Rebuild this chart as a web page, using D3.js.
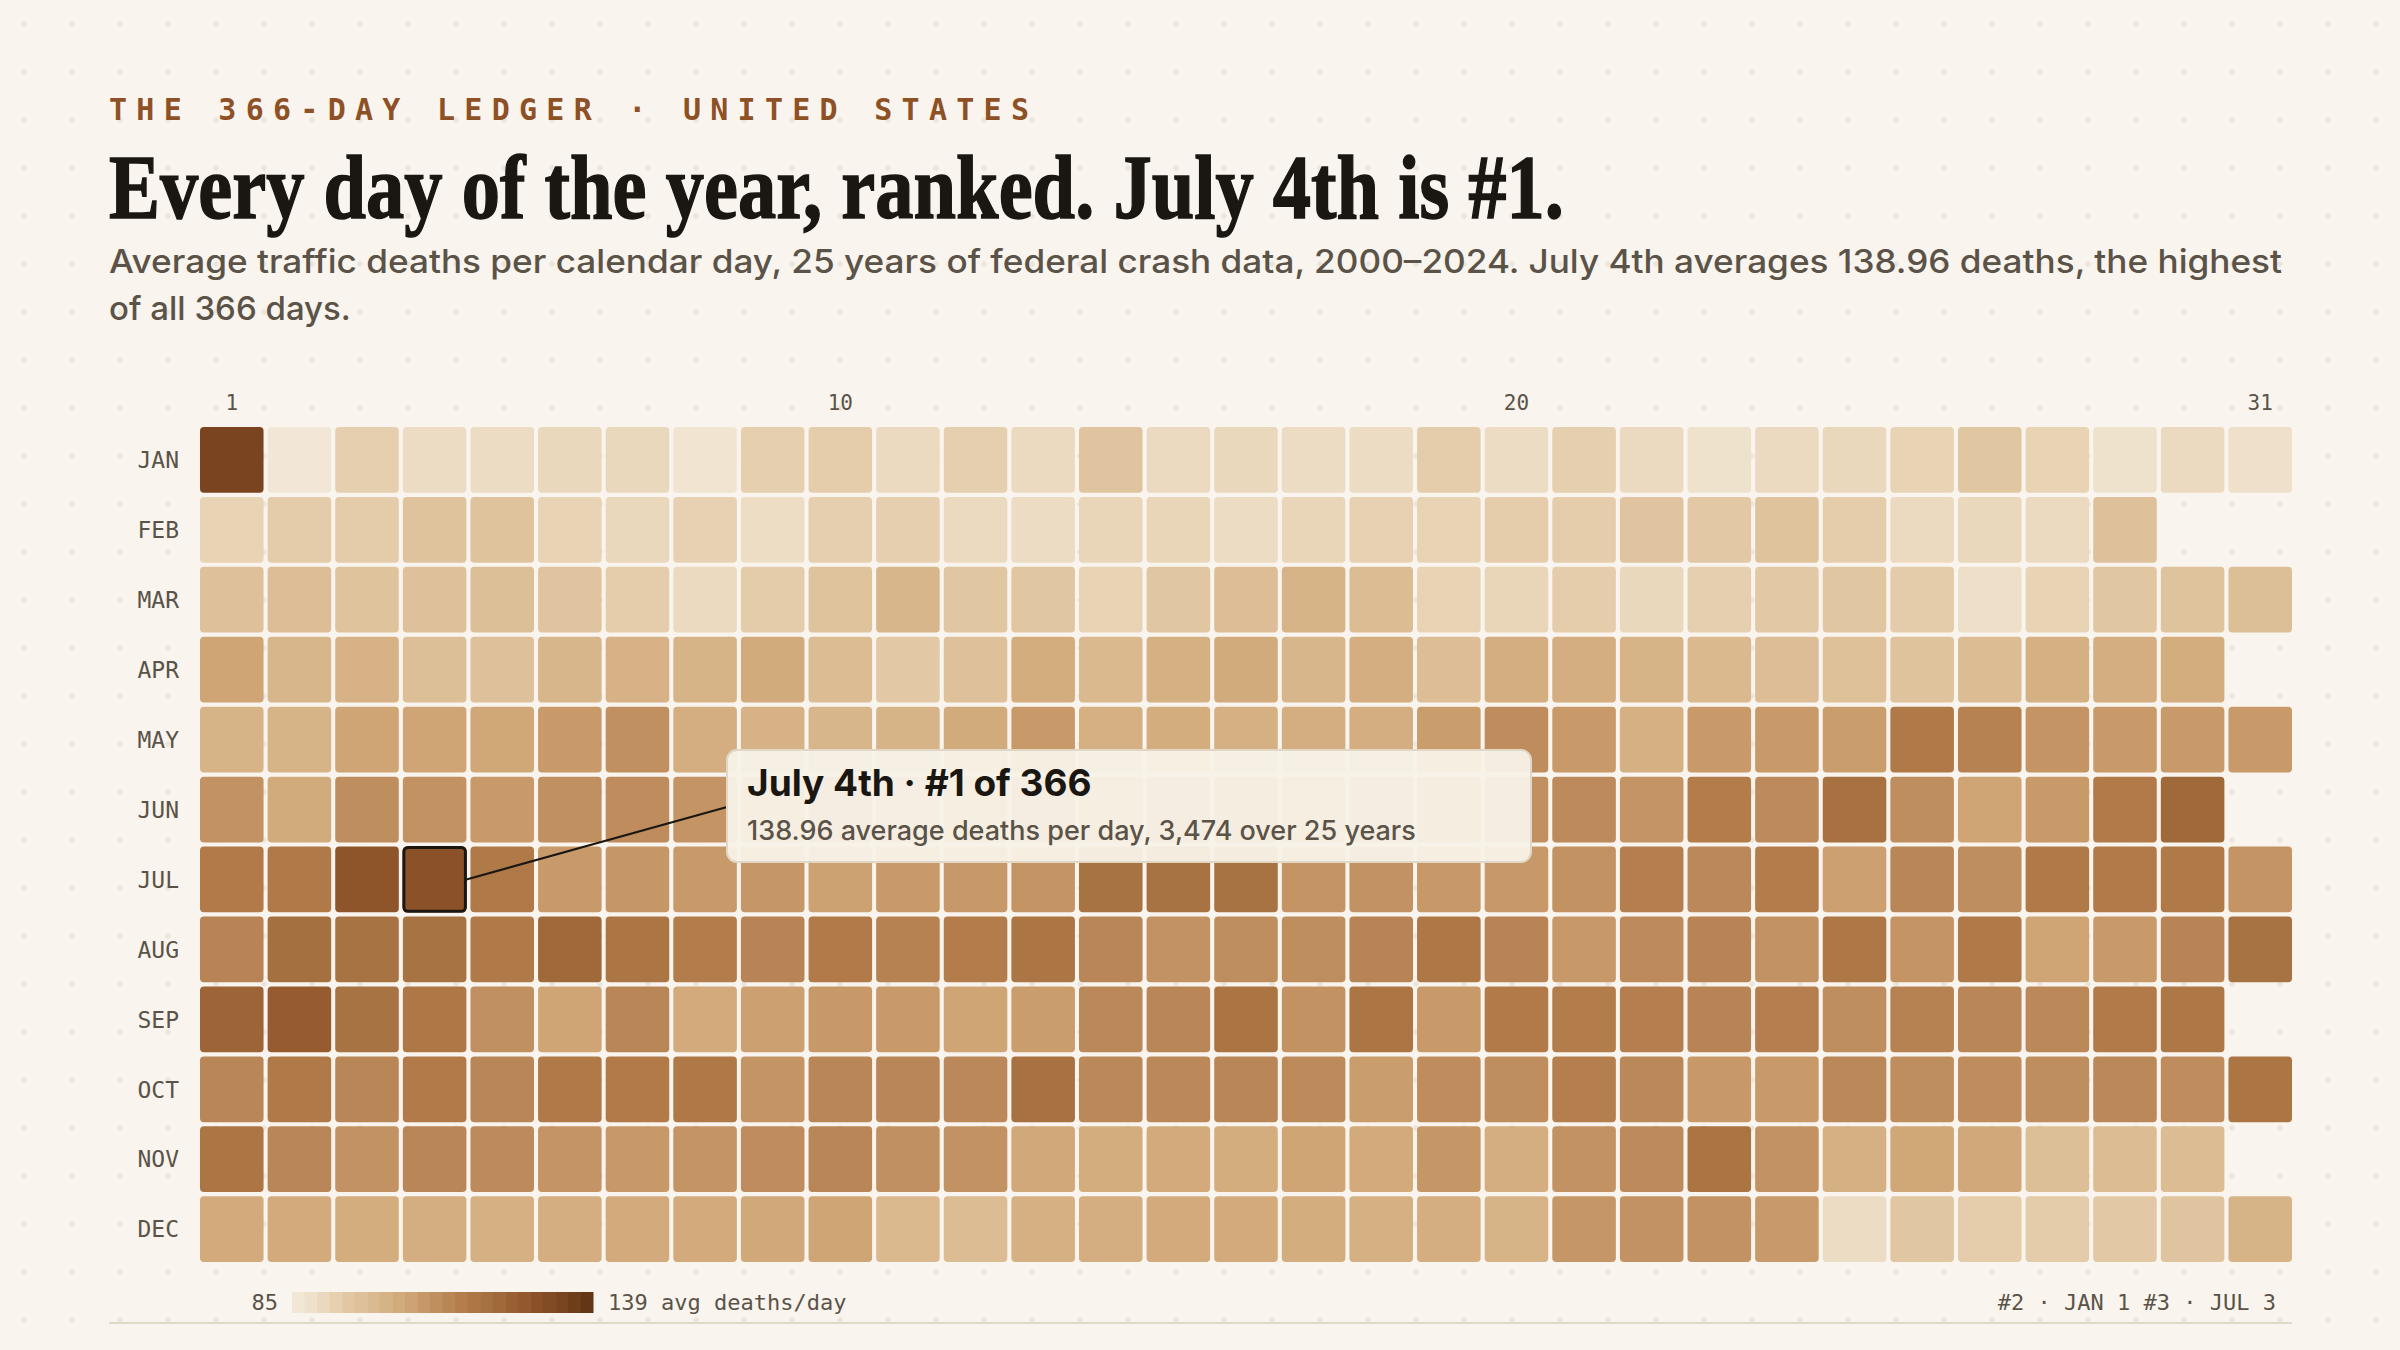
<!DOCTYPE html>
<html>
<head>
<meta charset="utf-8">
<script src="https://cdn.jsdelivr.net/npm/d3@7"></script>
<style>
  body { margin: 0; background: #f9f5ee; }
  svg { display: block; }
</style>
</head>
<body>
<svg id="chart" width="2400" height="1350"></svg>
<script>
// month labels and day ticks
const months = ["JAN", "FEB", "MAR", "APR", "MAY", "JUN", "JUL", "AUG", "SEP", "OCT", "NOV", "DEC"];
const dayTicks = [1, 10, 20, 31];

// average deaths per calendar day, 2000-2024
const jan = [133.2, 86, 93, 90, 90, 91, 91, 87, 93, 93.5, 90.5, 93, 90.5, 96, 90.5, 91, 90, 90, 93.5, 90, 93, 90.5, 88, 90.5, 91, 92, 95.5, 92, 88, 90.5, 88.5];
const feb = [92, 94, 94, 96.5, 96.5, 92, 91, 92.5, 89.5, 93, 93, 90.5, 90, 91.5, 91.5, 90, 91.5, 92.5, 92, 93.5, 93.5, 96, 95, 96.5, 93.5, 90.5, 91, 90.5, 97];
const mar = [97, 98.5, 96.5, 97, 98, 96, 93.5, 90.5, 94, 96.5, 101, 95.5, 95.5, 92, 95.5, 98.5, 101.5, 99, 92, 91.5, 93.5, 91, 93, 95, 95.5, 94, 89, 92, 95.5, 96.5, 98];
const apr = [106, 101, 102, 98, 97, 101, 102, 101.5, 104, 99, 95, 97, 103.5, 100, 102.5, 104, 101, 103, 98.5, 103, 103, 101.5, 100, 98.5, 97.5, 96.5, 99, 102.5, 103, 103.5];
const may = [101.5, 101.5, 106, 106, 105.5, 108, 110.5, 103, 102, 101, 101.5, 104, 108, 102.5, 103.5, 102.5, 103, 103, 107.5, 111.5, 108, 102.5, 108, 108, 107.5, 116.5, 114, 109.5, 108, 108, 108];
const jun = [110, 104, 111, 110, 108, 110.5, 111.5, 109.5, 108, 110, 107, 109, 111, 108, 110, 112, 109, 111, 113, 110.5, 112, 109.5, 115.5, 112, 119.5, 111, 106, 108, 116, 122];
const jul = [116, 116.5, 128, 138.96, 116.5, 108, 109, 108, 109, 106.5, 108, 108.5, 109.5, 119, 119, 119, 109.5, 110, 108.5, 108.5, 110, 115, 112.5, 115.5, 107, 113, 111, 116.5, 116, 116.5, 109.5];
const aug = [113.5, 120, 119, 119, 116.5, 122, 118, 115.5, 113.5, 116, 114, 115.5, 118, 113, 110, 111, 111, 113.5, 117.5, 113.5, 108.5, 112, 113.5, 110, 117.5, 109.5, 116.5, 106, 108, 113.5, 119];
const sep = [123, 125.5, 119, 117.5, 110.5, 106, 113, 104.5, 107, 108.5, 108, 106, 107.5, 112.5, 113, 118.5, 110, 118, 108, 116, 115.5, 115, 113.5, 115, 111, 114, 113, 112.5, 116, 117.5];
const oct = [113, 116.5, 113, 116, 113, 116.5, 116, 117, 109.5, 113, 113, 112.5, 119.5, 112.5, 112.5, 113, 112, 107.5, 111.5, 111, 115, 112.5, 108.5, 108, 112.5, 111, 111.5, 111, 112.5, 111.5, 118];
const nov = [118, 113, 110, 113, 112, 109.5, 108.5, 109.5, 111.5, 113, 110.5, 110, 105, 103.5, 104.5, 103.5, 106, 104.5, 109, 103, 110, 112, 118.5, 110, 102.5, 105.5, 105, 98, 99, 99];
const dec = [104.5, 104.5, 103.5, 103, 102.5, 103, 104.5, 104.5, 105, 106, 100, 99, 102.5, 103, 104.5, 104.5, 103.5, 102.5, 103, 101.5, 109, 110, 110, 108, 90, 95.5, 93.5, 94, 95, 96, 101.5];

const legendDomain = [85, 139];
const years = 25;
const highlight = { month: "JUL", day: 4, name: "July 4th" };

// flatten into cells
const monthValues = [jan, feb, mar, apr, may, jun, jul, aug, sep, oct, nov, dec];
let cells = [];
for (let m = 0; m < months.length; m++) {
    for (let d = 0; d < monthValues[m].length; d++) {
        cells.push({ month: months[m], day: d + 1, value: monthValues[m][d] });
    }
}
let ranked = cells.slice().sort((a, b) => b.value - a.value);
ranked.forEach((c, i) => c.rank = i + 1);

const svg = d3.select("#chart");

// dotted diamond background
let defs = svg.append("defs");
let pat = defs.append("pattern")
    .attr("id", "dots")
    .attr("width", 48)
    .attr("height", 48)
    .attr("patternUnits", "userSpaceOnUse");
pat.append("path")
    .attr("d", "M24,20.5 L27.5,24 L24,27.5 L20.5,24 Z")
    .attr("fill", "#ece5db");
svg.append("rect").attr("width", 2400).attr("height", 1350).attr("fill", "#f9f5ee");
svg.append("rect").attr("width", 2400).attr("height", 1350).attr("fill", "url(#dots)");

// header
svg.append("text")
    .attr("x", 109).attr("y", 120)
    .attr("font-family", "DejaVu Sans Mono")
    .attr("font-weight", 700)
    .attr("font-size", 30)
    .attr("fill", "#8e5126")
    .attr("textLength", 920)
    .attr("lengthAdjust", "spacing")
    .text("THE 366-DAY LEDGER · UNITED STATES");

svg.append("text")
    .attr("x", 109).attr("y", 218)
    .attr("font-family", "Liberation Serif")
    .attr("font-weight", 700)
    .attr("font-size", 92)
    .attr("fill", "#1a1712")
    .attr("stroke", "#1a1712")
    .attr("stroke-width", 1.5)
    .attr("textLength", 1455)
    .attr("lengthAdjust", "spacingAndGlyphs")
    .text("Every day of the year, ranked. July 4th is #1.");

let sub = svg.append("g")
    .attr("font-family", "Inter")
    .attr("font-weight", 500)
    .attr("font-size", 33)
    .attr("fill", "#5b5348");
sub.append("text")
    .attr("x", 109).attr("y", 273)
    .attr("textLength", 2173)
    .attr("lengthAdjust", "spacingAndGlyphs")
    .text("Average traffic deaths per calendar day, 25 years of federal crash data, 2000–2024. July 4th averages 138.96 deaths, the highest");
sub.append("text")
    .attr("x", 109).attr("y", 320)
    .text("of all 366 days.");

// scales
const x = d3.scaleBand()
    .domain(d3.range(1, 32))
    .range([200, 2292])
    .paddingInner(0.06);
const y = d3.scaleBand()
    .domain(months)
    .range([427, 1262])
    .paddingInner(0.06);
const color = d3.scaleLinear()
    .domain([85, 90, 93, 96, 99, 101, 103, 106, 108, 110, 113, 116, 119, 122, 126, 133, 139])
    .range(["#f4eadb", "#ecdcc3", "#e6cfae", "#e0c49f", "#dbbc93", "#d8b68b", "#d4ae80", "#cfa575",
            "#c89a6a", "#c29262", "#b98657", "#b27a49", "#a87342", "#a0693a", "#955a2e", "#7b4520", "#5e3312"])
    .clamp(true);

// cells
svg.append("g").selectAll("rect")
    .data(cells)
    .enter()
    .append("rect")
    .attr("x", d => x(d.day))
    .attr("y", d => y(d.month))
    .attr("width", x.bandwidth())
    .attr("height", y.bandwidth())
    .attr("rx", 4)
    .attr("fill", d => (d.month === highlight.month && d.day === highlight.day) ? "#8b5128" : color(d.value));

// labels
svg.append("g").selectAll("text")
    .data(months)
    .enter().append("text")
    .attr("x", 179)
    .attr("y", d => y(d) + y.bandwidth() / 2)
    .attr("dy", "0.36em")
    .attr("text-anchor", "end")
    .attr("font-family", "DejaVu Sans Mono")
    .attr("font-size", 23)
    .attr("fill", "#5b5348")
    .text(d => d);

svg.append("g").selectAll("text")
    .data(dayTicks)
    .enter().append("text")
    .attr("x", d => x(d) + x.bandwidth() / 2)
    .attr("y", 410)
    .attr("text-anchor", "middle")
    .attr("font-family", "DejaVu Sans Mono")
    .attr("font-size", 21)
    .attr("fill", "#5b5348")
    .text(d => d);

// highlight + callout
let hi = cells.find(c => c.month === highlight.month && c.day === highlight.day);
svg.append("rect")
    .attr("x", x(hi.day) + 1)
    .attr("y", y(hi.month) + 1)
    .attr("width", x.bandwidth() - 2)
    .attr("height", y.bandwidth() - 2)
    .attr("rx", 4)
    .attr("fill", "none")
    .attr("stroke", "#1a1712")
    .attr("stroke-width", 3);

const box = { x: 727, y: 750, w: 804, h: 112 };
svg.append("line")
    .attr("x1", x(hi.day) + x.bandwidth())
    .attr("y1", y(hi.month) + y.bandwidth() / 2)
    .attr("x2", box.x)
    .attr("y2", 807)
    .attr("stroke", "#1a1712")
    .attr("stroke-width", 2);

svg.append("rect")
    .attr("x", box.x).attr("y", box.y)
    .attr("width", box.w).attr("height", box.h)
    .attr("rx", 10)
    .attr("fill", "#f8f2e8")
    .attr("fill-opacity", 0.95)
    .attr("stroke", "#e2d7c4")
    .attr("stroke-width", 2);

svg.append("text")
    .attr("x", box.x + 20).attr("y", box.y + 46)
    .attr("font-family", "Inter")
    .attr("font-weight", 700)
    .attr("font-size", 37)
    .attr("fill", "#1a1712")
    .text(highlight.name + " · #" + hi.rank + " of " + cells.length);

svg.append("text")
    .attr("x", box.x + 20).attr("y", box.y + 90)
    .attr("font-family", "Inter")
    .attr("font-weight", 500)
    .attr("font-size", 27)
    .attr("fill", "#5b5348")
    .text(hi.value.toFixed(2) + " average deaths per day, " + d3.format(",")(Math.round(hi.value * years)) + " over " + years + " years");

// legend
const legendX = d3.scaleLinear().domain(legendDomain).range([292, 593]);
let steps = d3.range(24).map(i => legendDomain[0] + (legendDomain[1] - legendDomain[0]) * i / 24);
let stepW = (593 - 292) / 24;
svg.append("g").selectAll("rect")
    .data(steps)
    .enter().append("rect")
    .attr("x", d => legendX(d))
    .attr("y", 1292)
    .attr("width", stepW + 0.5)
    .attr("height", 21)
    .attr("fill", d => color(d + (legendDomain[1] - legendDomain[0]) / 48));

let foot = svg.append("g")
    .attr("font-family", "DejaVu Sans Mono")
    .attr("font-size", 22)
    .attr("fill", "#5b5348");
foot.append("text")
    .attr("x", legendX(legendDomain[0]) - 14).attr("y", 1310)
    .attr("text-anchor", "end")
    .text(legendDomain[0]);
foot.append("text")
    .attr("x", legendX(legendDomain[1]) + 15).attr("y", 1310)
    .text(legendDomain[1] + " avg deaths/day");

let r2 = ranked[1], r3 = ranked[2];
foot.append("text")
    .attr("x", 2276).attr("y", 1310)
    .attr("text-anchor", "end")
    .text("#2 · " + r2.month + " " + r2.day + " #3 · " + r3.month + " " + r3.day);

svg.append("line")
    .attr("x1", 109).attr("x2", 2292)
    .attr("y1", 1323).attr("y2", 1323)
    .attr("stroke", "#e3d9c8")
    .attr("stroke-width", 2);
</script>
</body>
</html>
